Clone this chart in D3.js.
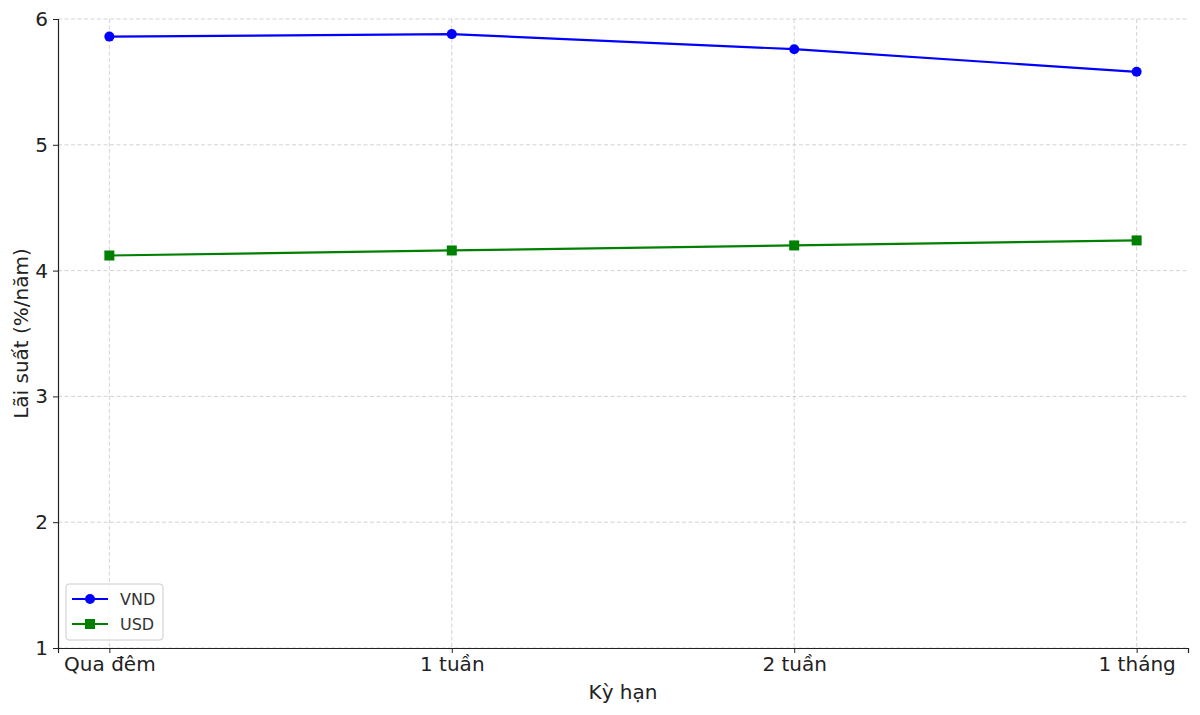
<!DOCTYPE html>
<html>
<head>
<meta charset="utf-8">
<script src="https://cdn.jsdelivr.net/npm/d3@7.9.0/dist/d3.min.js"></script>
<style>
  body { margin: 0; background: #fff; }
  svg { font-family: "DejaVu Sans", sans-serif; }
</style>
</head>
<body>
<script>
// Data
const terms = ["Qua đêm", "1 tuần", "2 tuần", "1 tháng"];
const vndRates = [5.86, 5.88, 5.76, 5.58];
const usdRates = [4.12, 4.16, 4.20, 4.24];
const yTicks = [1, 2, 3, 4, 5, 6];

const width = 1200, height = 715;
const margin = { top: 19, right: 12, bottom: 67, left: 58 };

const svg = d3.select("body").append("svg")
    .attr("width", width)
    .attr("height", height);

const x = d3.scalePoint()
    .domain(terms)
    .range([margin.left, width - margin.right])
    .padding(0.15);

const y = d3.scaleLinear()
    .domain([1, 6])
    .range([height - margin.bottom, margin.top]);

// Grid
const grid = svg.append("g").attr("stroke", "#b0b0b0").attr("stroke-opacity", 0.7)
    .attr("stroke-dasharray", "4 2.5").attr("stroke-width", 0.8);
grid.selectAll("line.h").data(yTicks).enter().append("line")
    .attr("x1", margin.left).attr("x2", width - margin.right)
    .attr("y1", d => y(d)).attr("y2", d => y(d));
grid.selectAll("line.v").data(terms).enter().append("line")
    .attr("x1", d => x(d)).attr("x2", d => x(d))
    .attr("y1", margin.top).attr("y2", height - margin.bottom);

// Axes
const xAxis = svg.append("g")
    .attr("transform", `translate(0,${height - margin.bottom})`)
    .call(d3.axisBottom(x).tickSizeOuter(0).tickSize(5).tickPadding(4));
const yAxis = svg.append("g")
    .attr("transform", `translate(${margin.left},0)`)
    .call(d3.axisLeft(y).tickValues(yTicks).tickFormat(d3.format("d")).tickSizeOuter(0).tickSize(5).tickPadding(5));

[xAxis, yAxis].forEach(a => {
    a.select(".domain").attr("stroke", "#222").attr("stroke-width", 1.2);
    a.selectAll(".tick line").attr("stroke", "#222");
    a.selectAll(".tick text").attr("fill", "#222").style("font-size", "20px")
        .style("font-family", "DejaVu Sans, sans-serif");
});
xAxis.selectAll(".tick text").attr("dy", "0.72em");

// Axis labels
svg.append("text")
    .attr("x", (margin.left + width - margin.right) / 2)
    .attr("y", 699)
    .attr("text-anchor", "middle")
    .attr("fill", "#222")
    .style("font-size", "20px")
    .text("Kỳ hạn");

svg.append("text")
    .attr("transform", `translate(28,${(margin.top + height - margin.bottom) / 2}) rotate(-90)`)
    .attr("text-anchor", "middle")
    .attr("fill", "#222")
    .style("font-size", "20px")
    .text("Lãi suất (%/năm)");

// Lines
const line = d3.line().x((d, i) => x(terms[i])).y(d => y(d));

svg.append("path").datum(vndRates)
    .attr("fill", "none").attr("stroke", "blue").attr("stroke-width", 2.2)
    .attr("d", line);
svg.selectAll("circle.vnd").data(vndRates).enter().append("circle")
    .attr("cx", (d, i) => x(terms[i])).attr("cy", d => y(d))
    .attr("r", 5).attr("fill", "blue");

svg.append("path").datum(usdRates)
    .attr("fill", "none").attr("stroke", "green").attr("stroke-width", 2.2)
    .attr("d", line);
svg.selectAll("rect.usd").data(usdRates).enter().append("rect")
    .attr("x", (d, i) => x(terms[i]) - 5).attr("y", d => y(d) - 5)
    .attr("width", 10).attr("height", 10).attr("fill", "green");

// Legend
const legend = svg.append("g").attr("transform", "translate(66,584)");
legend.append("rect")
    .attr("width", 97).attr("height", 56).attr("rx", 3)
    .attr("fill", "white").attr("fill-opacity", 0.8)
    .attr("stroke", "#ccc");
const items = [
    { name: "VND", color: "blue", shape: "circle" },
    { name: "USD", color: "green", shape: "square" }
];
items.forEach((it, i) => {
    const g = legend.append("g").attr("transform", `translate(0,${15 + i * 25})`);
    g.append("line").attr("x1", 6).attr("x2", 42).attr("stroke", it.color).attr("stroke-width", 2.2);
    if (it.shape === "circle") {
        g.append("circle").attr("cx", 24).attr("r", 5).attr("fill", it.color);
    } else {
        g.append("rect").attr("x", 19).attr("y", -5).attr("width", 10).attr("height", 10).attr("fill", it.color);
    }
    g.append("text").attr("x", 54).attr("dy", "0.35em")
        .attr("fill", "#333").style("font-size", "16px").text(it.name);
});
</script>
</body>
</html>
